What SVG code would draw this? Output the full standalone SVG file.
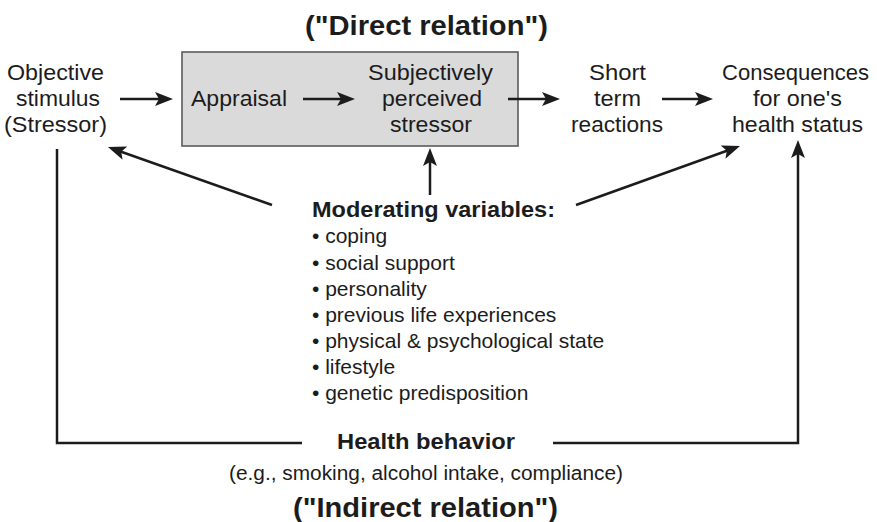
<svg xmlns="http://www.w3.org/2000/svg" width="877" height="522" viewBox="0 0 877 522">
<style>
text{font-family:"Liberation Sans",Arial,Helvetica,sans-serif;fill:#1c1c1c}
.t{font-size:22px;text-anchor:middle}
.b{font-weight:bold}
.li{font-size:21px}
.ln{fill:none;stroke:#1c1c1c;stroke-width:2.5}
.ar{marker-end:url(#ah)}
</style>
<defs>
<marker id="ah" markerUnits="userSpaceOnUse" markerWidth="18" markerHeight="14" viewBox="0 0 18 14" refX="10" refY="7" orient="auto">
<path d="M0,0 L18,7 L0,14 L4,7 Z" fill="#1c1c1c"/>
</marker>
</defs>
<rect x="0" y="0" width="877" height="522" fill="#ffffff"/>
<g id="title-direct">
<text class="b" x="426.5" y="35" font-size="27" text-anchor="middle" textLength="243" lengthAdjust="spacingAndGlyphs">("Direct relation")</text>
</g>
<g id="node-objective">
<text class="t" x="55.5" y="80" textLength="97" lengthAdjust="spacingAndGlyphs">Objective</text>
<text class="t" x="58" y="106" textLength="84" lengthAdjust="spacingAndGlyphs">stimulus</text>
<text class="t" x="55.5" y="132" textLength="103" lengthAdjust="spacingAndGlyphs">(Stressor)</text>
</g>
<g id="box-direct">
<rect x="182" y="52" width="336" height="94" fill="#dadada" stroke="#5a5a5a" stroke-width="1.6"/>
</g>
<g id="node-appraisal">
<text class="t" x="239" y="106" textLength="96" lengthAdjust="spacingAndGlyphs">Appraisal</text>
</g>
<g id="node-perceived">
<text class="t" x="430.5" y="80" textLength="125" lengthAdjust="spacingAndGlyphs">Subjectively</text>
<text class="t" x="432" y="106" textLength="100" lengthAdjust="spacingAndGlyphs">perceived</text>
<text class="t" x="431" y="132" textLength="82" lengthAdjust="spacingAndGlyphs">stressor</text>
</g>
<g id="node-short">
<text class="t" x="617.5" y="80" textLength="57" lengthAdjust="spacingAndGlyphs">Short</text>
<text class="t" x="617.5" y="106" textLength="47" lengthAdjust="spacingAndGlyphs">term</text>
<text class="t" x="617" y="132" textLength="92" lengthAdjust="spacingAndGlyphs">reactions</text>
</g>
<g id="node-consequences">
<text class="t" x="795.5" y="80" textLength="147" lengthAdjust="spacingAndGlyphs">Consequences</text>
<text class="t" x="797.5" y="106" textLength="89" lengthAdjust="spacingAndGlyphs">for one's</text>
<text class="t" x="797.5" y="132" textLength="131" lengthAdjust="spacingAndGlyphs">health status</text>
</g>
<g id="node-moderating">
<text class="b" x="312" y="217" font-size="22" textLength="243" lengthAdjust="spacingAndGlyphs">Moderating variables:</text>
<text class="li" x="312" y="243">• coping</text>
<text class="li" x="312" y="270">• social support</text>
<text class="li" x="312" y="296">• personality</text>
<text class="li" x="312" y="322">• previous life experiences</text>
<text class="li" x="312" y="348">• physical &amp; psychological state</text>
<text class="li" x="312" y="374">• lifestyle</text>
<text class="li" x="312" y="400">• genetic predisposition</text>
</g>
<g id="node-health-behavior">
<text class="b" x="426" y="449" font-size="22" text-anchor="middle" textLength="178" lengthAdjust="spacingAndGlyphs">Health behavior</text>
<text x="426" y="480" font-size="20" text-anchor="middle" textLength="394" lengthAdjust="spacingAndGlyphs">(e.g., smoking, alcohol intake, compliance)</text>
</g>
<g id="title-indirect">
<text class="b" x="425.5" y="517" font-size="28" text-anchor="middle" textLength="265" lengthAdjust="spacingAndGlyphs">("Indirect relation")</text>
</g>
<g id="connectors">
<line class="ln ar" x1="120" y1="99" x2="165" y2="99"/>
<line class="ln ar" x1="303" y1="99" x2="347" y2="99"/>
<line class="ln ar" x1="508" y1="99" x2="552" y2="99"/>
<line class="ln ar" x1="662" y1="99" x2="705" y2="99"/>
<line class="ln ar" x1="272" y1="205" x2="115.5" y2="149.7"/>
<line class="ln ar" x1="430" y1="195" x2="430" y2="156"/>
<line class="ln ar" x1="576" y1="205" x2="732.5" y2="148.7"/>
<polyline class="ln" points="57,149 57,443 302,443"/>
<polyline class="ln ar" points="553,443 798,443 798,148"/>
</g>
</svg>
